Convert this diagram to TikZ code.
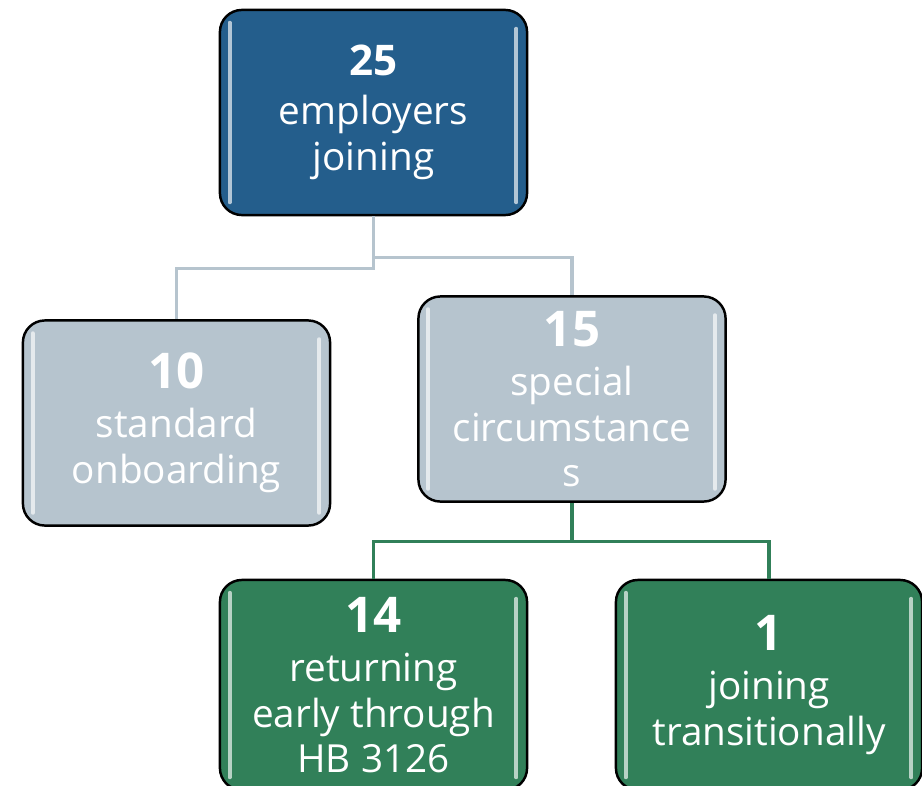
\documentclass[tikz,border=0pt]{standalone}
\usepackage{fontspec}
\setmainfont{Open Sans}
\definecolor{topblue}{HTML}{245E8C}
\definecolor{paleslate}{HTML}{B6C4CE}
\definecolor{leafgreen}{HTML}{318059}
\tikzset{
  box/.style={draw=black, line width=0.7pt, rounded corners=0.22cm,
    minimum width=3.07cm, minimum height=2.05cm, align=center,
    text=white, font=\fontsize{11}{13}\selectfont},
  topbox/.style={box, fill=topblue},
  greybox/.style={box, fill=paleslate},
  greenbox/.style={box, fill=leafgreen, minimum height=2.1cm},
  shine/.style={white, opacity=0.65, line width=1.1pt, line cap=round},
  greyline/.style={paleslate, line width=0.95pt},
  greenline/.style={leafgreen, line width=0.95pt},
}
\newcommand{\bignum}[1]{{\fontsize{14}{14}\selectfont\bfseries #1}}
\begin{document}
\begin{tikzpicture}[x=0.01cm,y=-0.01cm]
\useasboundingbox (0,0) rectangle (922,785);

\node[topbox] (total) at (373.5,112.5) {{\fontsize{12}{13}\selectfont\bfseries 25}\\[1pt]employers\\joining};
\node[greybox] (standard) at (176.5,423) {\bignum{10}\\[1pt]standard\\onboarding};
\node[greybox] (special) at (572,399) {\bignum{15}\\[1pt]special\\circumstance\\s};
\node[greenbox] (returning) at (373.5,685) {\bignum{14}\\[1pt]returning\\early through\\HB 3126};
\node[greenbox, minimum width=3.06cm] (transition) at (769,685) {\bignum{1}\\[1pt]joining\\transitionally};

% connectors
\draw[greyline] (total.south) -- ++(0,52) -| (standard.north);
\draw[greyline] (total.south) -- ++(0,41) -| (special.north);
\draw[greenline] (special.south) -- ++(0,39) -| (returning.north);
\draw[greenline] (special.south) -- ++(0,39) -| (transition.north);

% glossy edges
\foreach \n in {total,standard,special,returning,transition} {
  \draw[shine] ([shift={(11,14)}]\n.north west) -- ([shift={(11,-14)}]\n.south west);
  \draw[shine] ([shift={(-12,20)}]\n.north east) -- ([shift={(-12,-14)}]\n.south east);
}
\end{tikzpicture}
\end{document}
